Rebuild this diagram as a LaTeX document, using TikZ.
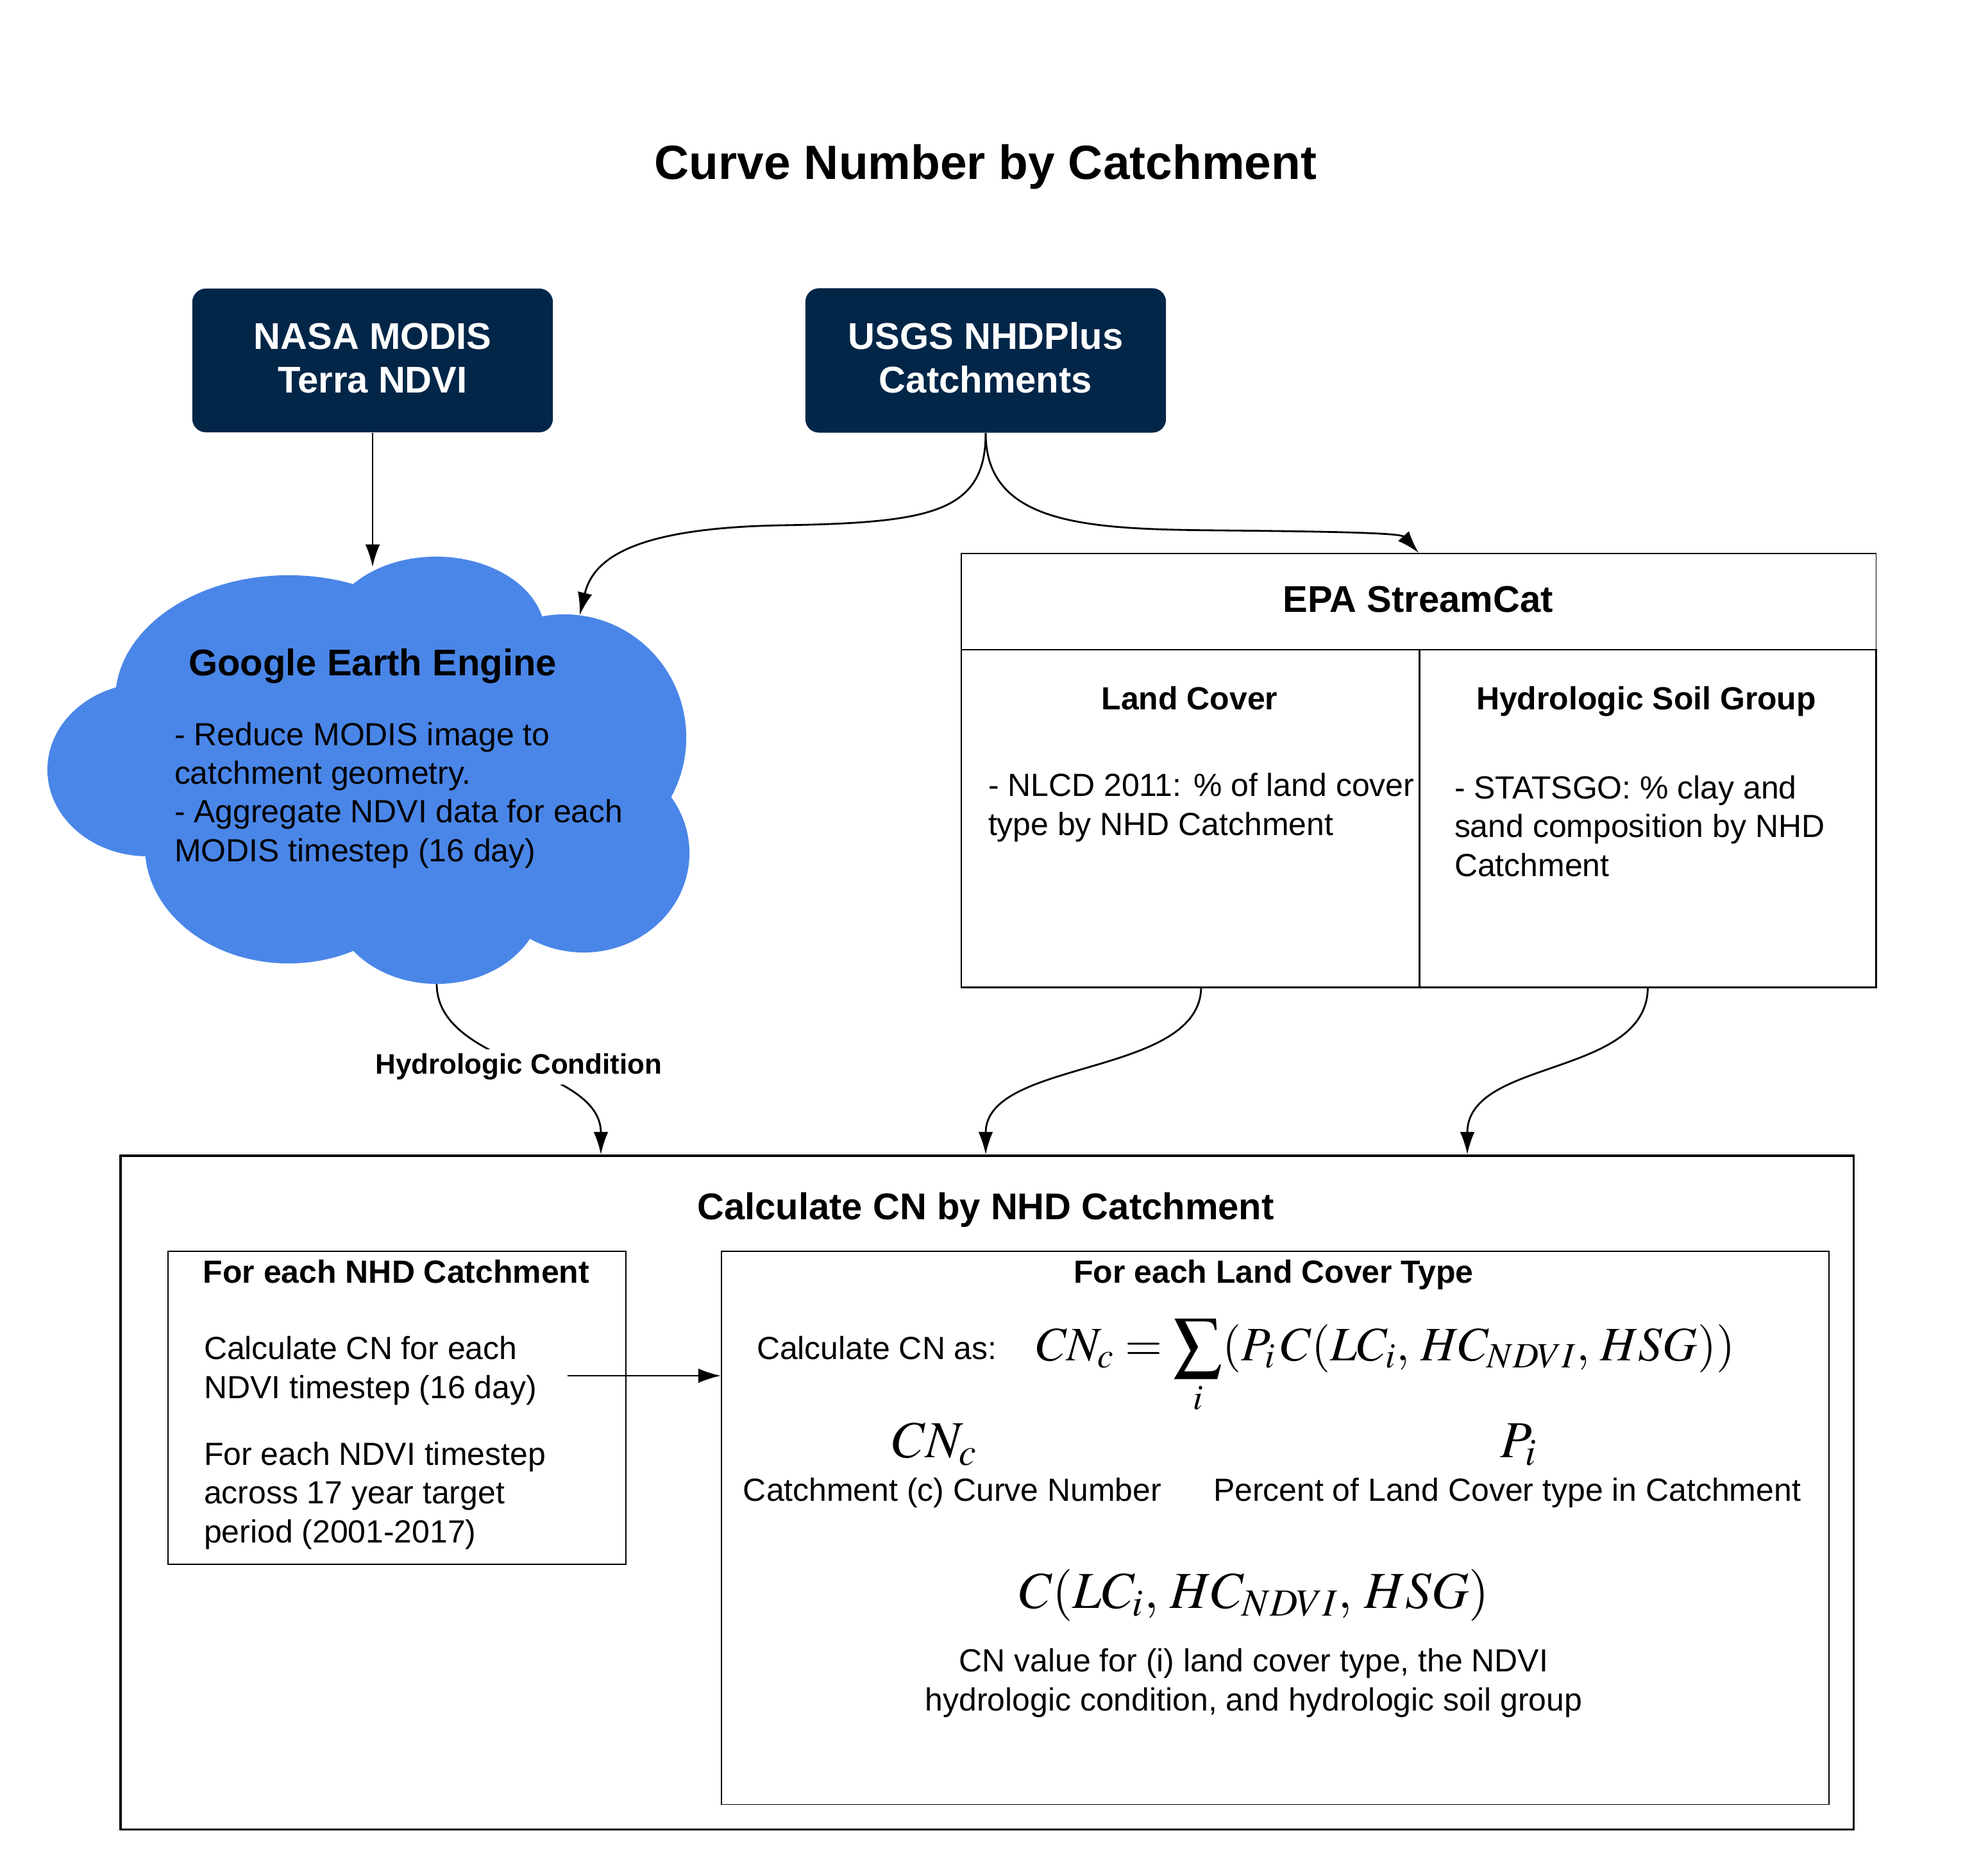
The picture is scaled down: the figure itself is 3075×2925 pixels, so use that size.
\documentclass[tikz,border=0pt]{standalone}
\usepackage{mathptmx}
\usepackage[no-math]{fontspec}
\setmainfont{Liberation Sans}
\usetikzlibrary{arrows.meta}
\definecolor{navy}{RGB}{2,38,72}
\definecolor{cloudblue}{RGB}{74,134,232}
\newcommand\fTitle{\fontsize{21.3}{25}\selectfont\bfseries}
\newcommand\fHead{\fontsize{16.5}{19.6}\selectfont\bfseries}
\newcommand\fBody{\fontsize{14.2}{17.07}\selectfont}
\newcommand\fSub{\fontsize{14.2}{17.07}\selectfont\bfseries}
\newcommand\fLab{\fontsize{12.5}{15}\selectfont\bfseries}
\newcommand\fMath{\fontsize{21.3}{25}\selectfont}
\newcommand\fMathB{\fontsize{23}{27}\selectfont}
\begin{document}
\begin{tikzpicture}[x=0.01cm,y=-0.01cm,
  >={Latex[length=10pt,width=6.5pt]},
  conn/.style={line width=0.8pt,->},
  srcbox/.style={fill=navy,rounded corners=6pt,inner sep=0pt},
  srctxt/.style={text=white,align=center,font=\fHead,inner sep=0pt},
  txt/.style={inner sep=0pt,outer sep=0pt},
  thinbox/.style={draw,line width=0.45pt,inner sep=0pt},
  midbox/.style={draw,line width=0.7pt,inner sep=0pt},
  bigbox/.style={draw,line width=1.1pt,inner sep=0pt}]
\useasboundingbox (0,0) rectangle (3075,2925);
\fill[white] (0,0) rectangle (3075,2925);

% title
\node[txt,anchor=base,font=\fTitle] (title) at (1537,280) {Curve Number by Catchment};

% source boxes
\node[srcbox,minimum width=5.62cm,minimum height=2.24cm] (nasa) at (581,562) {};
\node[srctxt,anchor=base] (nasatxt) at (581,613) {NASA MODIS\\Terra NDVI};
\node[srcbox,minimum width=5.62cm,minimum height=2.25cm] (usgs) at (1537,562) {};
\node[srctxt,anchor=base] (usgstxt) at (1537,613) {USGS NHDPlus\\Catchments};

% cloud
\begin{scope}[fill=cloudblue]
  \fill (230,1200) ellipse [x radius=1.56cm,y radius=1.35cm];
  \fill (450,1090) ellipse [x radius=2.70cm,y radius=1.93cm];
  \fill (680,990) ellipse [x radius=1.70cm,y radius=1.22cm];
  \fill (880,1150) ellipse [x radius=1.90cm,y radius=1.92cm];
  \fill (910,1330) ellipse [x radius=1.65cm,y radius=1.55cm];
  \fill (681,1400) ellipse [x radius=1.65cm,y radius=1.34cm];
  \fill (450,1320) ellipse [x radius=2.24cm,y radius=1.82cm];
  \fill (300,1080) rectangle (980,1420);
\end{scope}
\coordinate (geeN) at (581,884);
\coordinate (geeNE) at (904,959);
\coordinate (geeS) at (681,1534);
\node[txt,anchor=base,font=\fHead] (gee) at (581,1054) {Google Earth Engine};
\node[txt,anchor=base west,align=left,font=\fBody] (geetxt) at (272,1343)
  {- Reduce MODIS image to\\catchment geometry.\\- Aggregate NDVI data for each\\MODIS timestep (16 day)};

% EPA StreamCat
\node[thinbox,anchor=north west,minimum width=14.26cm,minimum height=1.50cm] (epa) at (1498,862) {};
\node[txt,anchor=base,font=\fHead] (epatxt) at (2211,955) {EPA StreamCat};
\node[midbox,anchor=north west,minimum width=7.14cm,minimum height=5.26cm] (lc) at (1498,1012) {};
\node[midbox,anchor=north west,minimum width=7.12cm,minimum height=5.26cm] (hsg) at (2212,1012) {};
\node[txt,anchor=base,font=\fSub] (lch) at (1855,1107) {Land Cover};
\node[txt,anchor=base,font=\fSub] (hsgh) at (2567,1107) {Hydrologic Soil Group};
\node[txt,anchor=base west,align=left,font=\fBody] (lct) at (1541,1302)
  {- NLCD 2011: \% of land cover\\type by NHD Catchment};
\node[txt,anchor=base west,align=left,font=\fBody] (hsgt) at (2268,1366)
  {- STATSGO: \% clay and\\sand composition by NHD\\Catchment};
\coordinate (lcS) at (1873,1538);

% calculation box
\node[bigbox,anchor=north west,minimum width=27.01cm,minimum height=10.50cm] (calc) at (186,1800) {};
\node[txt,anchor=base,font=\fHead] (calch) at (1537,1901) {Calculate CN by NHD Catchment};
\node[thinbox,anchor=north west,minimum width=7.14cm,minimum height=4.88cm] (cl) at (261,1950) {};
\node[thinbox,anchor=north west,minimum width=17.26cm,minimum height=8.62cm] (cr) at (1124,1950) {};
\node[txt,anchor=base,font=\fSub] (clh) at (618,2000) {For each NHD Catchment};
\node[txt,anchor=base west,align=left,font=\fBody] (clt1) at (318,2180)
  {Calculate CN for each\\NDVI timestep (16 day)};
\node[txt,anchor=base west,align=left,font=\fBody] (clt2) at (318,2405)
  {For each NDVI timestep\\across 17 year target\\period (2001-2017)};
\coordinate (arrS) at (885,2145);

\node[txt,anchor=base,font=\fSub] (crh) at (1986,2000) {For each Land Cover Type};
\node[txt,anchor=base west,font=\fBody] (calcas) at (1180,2119) {Calculate CN as:};
\node[txt,anchor=base west,font=\fMath] (eq) at (1616,2121)
  {$\displaystyle CN_c = \sum_i (P_i\,C(LC_i,\,HC_{NDVI},\,HSG))$};
\node[txt,anchor=base,font=\fMathB] (cnc) at (1458,2272) {$CN_c$};
\node[txt,anchor=base,font=\fMathB] (pi) at (2368,2272) {$P_i$};
\node[txt,anchor=base,font=\fBody] (cncd) at (1485,2340) {Catchment (c) Curve Number};
\node[txt,anchor=base,font=\fBody] (pid) at (2350,2340) {Percent of Land Cover type in Catchment};
\node[txt,anchor=base,font=\fMathB] (cfun) at (1956,2507) {$C(LC_i,\,HC_{NDVI},\,HSG)$};
\node[txt,anchor=base,align=center,font=\fBody] (cfund) at (1955,2667)
  {CN value for (i) land cover type, the NDVI\\hydrologic condition, and hydrologic soil group};

% target points on the calculation box
\coordinate (calcA) at (937,1800);
\coordinate (calcB) at (1537,1800);
\coordinate (calcC) at (2288,1800);

% connectors
\draw[conn] (nasa.south) -- (geeN);
\draw[conn] (usgs.south) .. controls (1537,800) and (1450,815) .. (1220,819)
  .. controls (990,823) and (925,870) .. (geeNE);
\draw[conn] (usgs.south) .. controls (1537,820) and (1700,825) .. (1900,827)
  .. controls (2120,829) and (2185,832) .. (epa.north);
\draw[conn] (geeS) .. controls (681,1662) and (937,1662) .. (calcA)
  node[pos=0.5,fill=white,inner sep=2pt,font=\fLab] (hc) {Hydrologic Condition};
\draw[conn] (lcS) .. controls (1873,1680) and (1537,1650) .. (calcB);
\draw[conn] (hsg.south) .. controls (2567,1680) and (2288,1650) .. (calcC);
\draw[conn] (arrS) -- (arrS -| cr.west);
\end{tikzpicture}
\end{document}
